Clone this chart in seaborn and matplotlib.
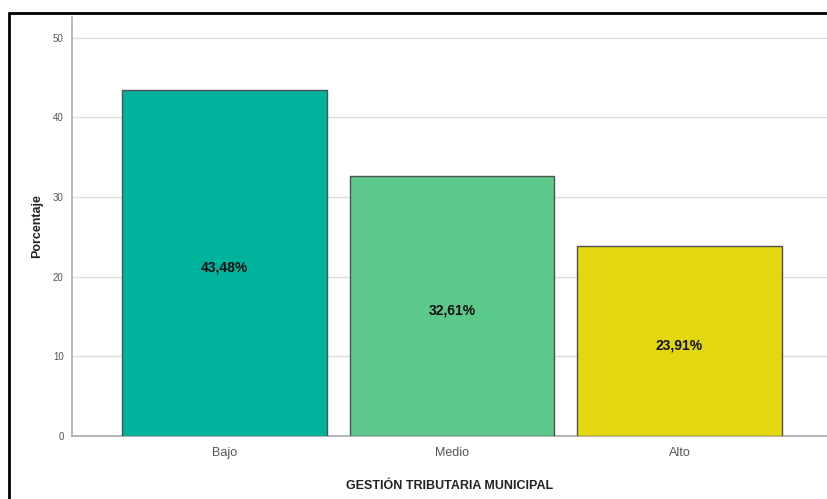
import pandas as pd
import matplotlib
matplotlib.use('Agg')
import matplotlib.pyplot as plt
import seaborn as sns
from matplotlib.lines import Line2D

categories = ['Bajo', 'Medio', 'Alto']
percentages = [43.48, 32.61, 23.91]
bar_labels = ['43,48%', '32,61%', '23,91%']
colors = ['#00b39c', '#5cc98b', '#e3d70f']
y_ticks = [0, 10, 20, 30, 40, 50]

sns.set_theme(style='white')
plt.rcParams['font.family'] = ['Liberation Sans', 'DejaVu Sans']

df = pd.DataFrame({'nivel': categories, 'pct': percentages})

fig = plt.figure(figsize=(8.28, 4.99), dpi=100)
ax = fig.add_axes([72 / 828, 1 - 436 / 499, 1 - 72 / 828, (436 - 17) / 499])

sns.barplot(data=df, x='nivel', y='pct', hue='nivel', palette=colors,
            legend=False, width=0.9, edgecolor='#505050', linewidth=1.0,
            saturation=1, ax=ax, zorder=3)

ax.set_ylim(0, 52.6)
ax.set_xlim(-0.67, 2.653)
ax.set_yticks(y_ticks)
ax.set_yticklabels([str(t) for t in y_ticks], fontsize=7, color='#555555')
ax.tick_params(axis='x', labelsize=9, colors='#555555', length=0, pad=8)
ax.tick_params(axis='y', length=0, pad=6)
ax.yaxis.grid(True, color='#dddddd', linewidth=1, zorder=0)
ax.set_axisbelow(True)

for s in ['top', 'right']:
    ax.spines[s].set_visible(False)
for s in ['left', 'bottom']:
    ax.spines[s].set_color('#aaaaaa')
    ax.spines[s].set_linewidth(1.2)

for p, lab in zip(ax.patches, bar_labels):
    ax.annotate(lab, (p.get_x() + p.get_width() / 2, p.get_height() / 2),
                xytext=(0, -3.5), textcoords='offset points',
                ha='center', va='center', fontsize=10, fontweight='bold',
                color='#111111', zorder=4)

ax.set_xlabel('GESTIÓN TRIBUTARIA MUNICIPAL', fontsize=9, fontweight='bold',
              color='#222222', labelpad=15)
ax.set_ylabel('Porcentaje', fontsize=9, fontweight='bold', color='#222222',
              labelpad=7)

# outer frame (left and top edges visible)
fig.add_artist(Line2D([9 / 828, 9 / 828], [0, 1 - 13 / 499], transform=fig.transFigure,
                      color='black', linewidth=2))
fig.add_artist(Line2D([9 / 828, 1], [1 - 13 / 499, 1 - 13 / 499], transform=fig.transFigure,
                      color='black', linewidth=2))

fig.savefig('out.png', dpi=100)
